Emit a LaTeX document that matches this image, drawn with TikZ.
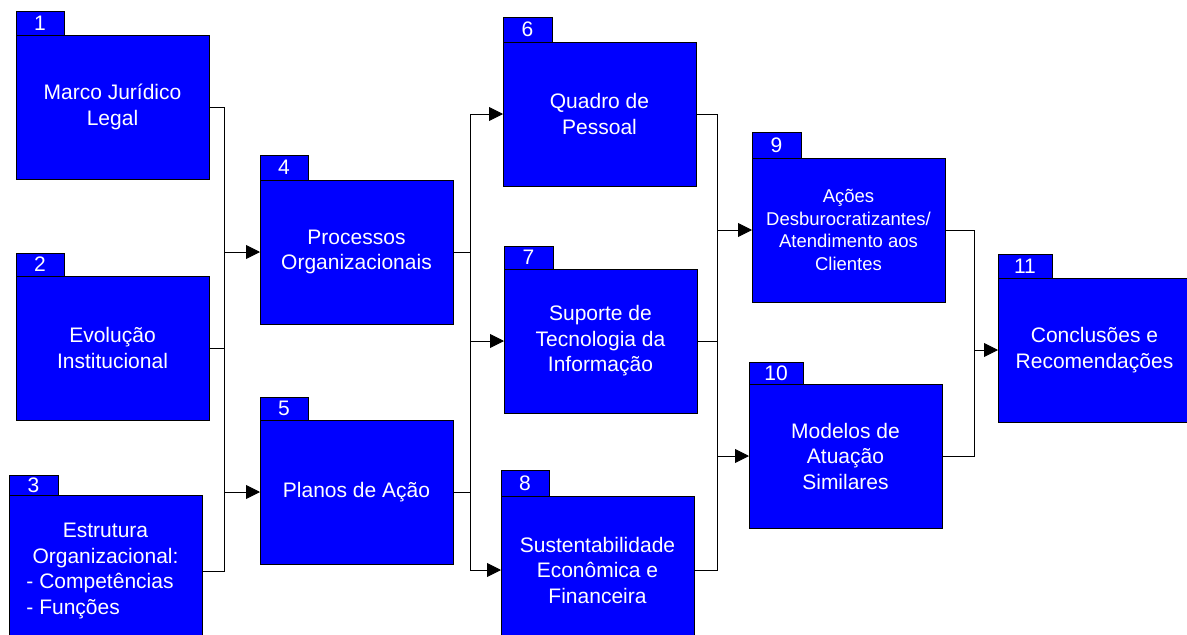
\documentclass[tikz,border=0pt]{standalone}
\usepackage{fontspec}
\setmainfont{Liberation Sans}
\usetikzlibrary{arrows.meta}

\definecolor{azul}{RGB}{0,0,255}

\tikzstyle{pasta} = [draw, fill=azul, rectangle, text=white, line width=0.8pt,
    minimum width=193pt, minimum height=144pt, inner sep=0pt, outer sep=0pt,
    anchor=north west, align=center, font=\fontsize{21}{25.5}\selectfont]
\tikzstyle{aba} = [draw, fill=azul, rectangle, text=white, line width=0.8pt,
    minimum width=48pt, minimum height=24pt, inner sep=0pt, outer sep=0pt,
    anchor=south west, font=\fontsize{21}{25}\selectfont]
\tikzstyle{liga} = [draw, line width=0.9pt]
\tikzstyle{seta} = [liga, -{Triangle[length=14pt,width=14pt]}]

\begin{document}
\begin{tikzpicture}[x=1pt, y=-1pt]
    \useasboundingbox (0,0) rectangle (1187,635);
    \clip (0,0) rectangle (1187,635);
    % coluna 1
    \node [pasta] (b1) at (16,35) {Marco Jurídico\\Legal};
    \node [aba] (t1) at (b1.north west) {1};
    \node [pasta] (b2) at (16,276) {Evolução\\Institucional};
    \node [aba, minimum height=23pt] (t2) at (b2.north west) {2};
    \node [pasta, minimum height=152pt] (b3) at (9,495) {Estrutura\\Organizacional:\\
        \makebox[158pt][l]{- Competências}\\\makebox[158pt][l]{- Funções}};
    \node [aba, minimum height=20pt, minimum width=49pt] (t3) at (b3.north west) {3};
    % coluna 2
    \node [pasta] (b4) at (260,180) {Processos\\Organizacionais};
    \node [aba, minimum height=25pt] (t4) at (b4.north west) {4};
    \node [pasta] (b5) at (260,420) {Planos de Ação};
    \node [aba, minimum height=23pt] (t5) at (b5.north west) {5};
    % coluna 3
    \node [pasta] (b6) at (503,42) {Quadro de\\Pessoal};
    \node [aba, minimum height=25pt, minimum width=49pt] (t6) at (b6.north west) {6};
    \node [pasta] (b7) at (504,269) {Suporte de\\Tecnologia da\\Informação};
    \node [aba, minimum height=23pt, minimum width=49pt] (t7) at (b7.north west) {7};
    \node [pasta, minimum height=148pt] (b8) at (501,496) {Sustentabilidade\\Econômica e\\Financeira};
    \node [aba, minimum height=26pt] (t8) at (b8.north west) {8};
    % coluna 4
    \node [pasta, font=\fontsize{18.5}{22.7}\selectfont] (b9) at (752,158)
        {Ações\\Desburocratizantes/\\Atendimento aos\\Clientes};
    \node [aba, minimum height=26pt, minimum width=49pt] (t9) at (b9.north west) {9};
    \node [pasta] (b10) at (749,384) {Modelos de\\Atuação\\Similares};
    \node [aba, minimum height=22pt, minimum width=54pt] (t10) at (b10.north west) {10};
    % coluna 5
    \node [pasta] (b11) at (998,278) {Conclusões e\\Recomendações};
    \node [aba, minimum height=24pt, minimum width=54pt] (t11) at (b11.north west) {11};

    % barramentos
    \coordinate (barraA) at (224,0);
    \coordinate (barraB) at (470,0);
    \coordinate (barraC) at (717,0);
    \coordinate (barraD) at (974,0);

    \draw [liga] (b1.east) -- (b1.east -| barraA) -- (b3.east -| barraA) -- (b3.east);
    \draw [liga] (b2.east) -- (b2.east -| barraA);
    \draw [seta] (b4.west -| barraA) -- (b4.west);
    \draw [seta] (b5.west -| barraA) -- (b5.west);

    \draw [liga] (b4.east) -- (b4.east -| barraB);
    \draw [liga] (b5.east) -- (b5.east -| barraB);
    \draw [liga] (b6.west -| barraB) -- (b8.west -| barraB);
    \draw [seta] (b6.west -| barraB) -- (b6.west);
    \draw [seta] (b7.west -| barraB) -- (b7.west);
    \draw [seta] (b8.west -| barraB) -- (b8.west);

    \draw [liga] (b6.east) -- (b6.east -| barraC) -- (b8.east -| barraC) -- (b8.east);
    \draw [liga] (b7.east) -- (b7.east -| barraC);
    \draw [seta] (b9.west -| barraC) -- (b9.west);
    \draw [seta] (b10.west -| barraC) -- (b10.west);

    \draw [liga] (b9.east) -- (b9.east -| barraD) -- (b10.east -| barraD) -- (b10.east);
    \draw [seta] (b11.west -| barraD) -- (b11.west);
\end{tikzpicture}
\end{document}
